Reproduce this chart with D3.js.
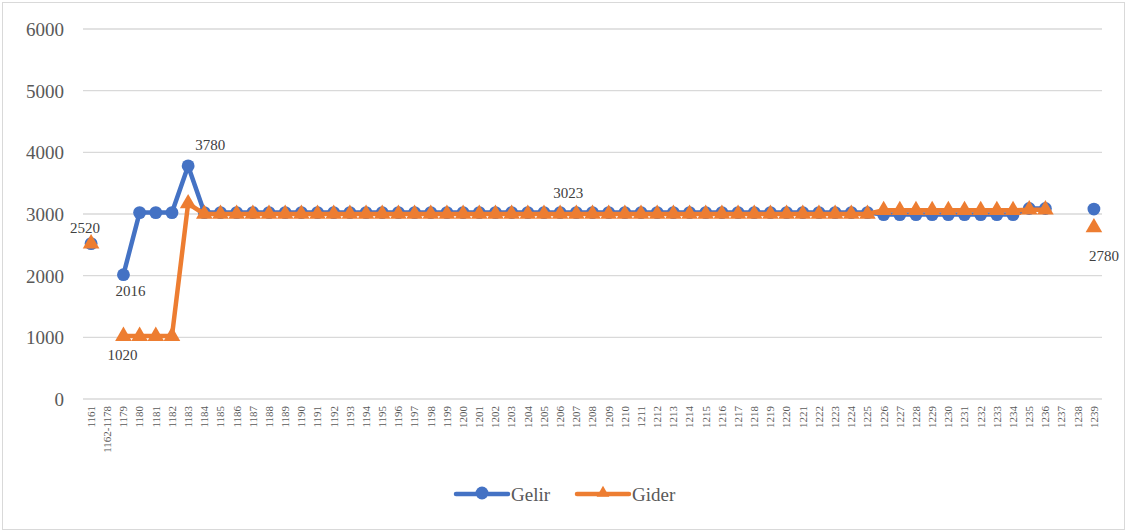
<!DOCTYPE html>
<meta charset="utf-8">
<style>
body { margin: 0; background: #fff; }
svg { display: block; font-family: "Liberation Serif", "Times New Roman", serif; }
.grid line { stroke: #d9d9d9; stroke-width: 1.3px; }
.ylab text { font-family: "Liberation Serif", "Times New Roman", serif; font-size: 19px; fill: #595959; }
.xlab text { font-family: "Liberation Serif", "Times New Roman", serif; font-size: 11px; fill: #595959; }
.dlab { font-size: 15px; fill: #404040; }
.legend text { font-size: 19px; fill: #595959; }
</style>
<body>
<div id="chart"></div>
<script src="https://cdn.jsdelivr.net/npm/d3@7"></script>
<script>
// categories (years)
var years = ["1161", "1162-1178",
  "1179", "1180", "1181", "1182", "1183", "1184", "1185", "1186", "1187", "1188", "1189", "1190",
  "1191", "1192", "1193", "1194", "1195", "1196", "1197", "1198", "1199", "1200",
  "1201", "1202", "1203", "1204", "1205", "1206", "1207", "1208", "1209", "1210",
  "1211", "1212", "1213", "1214", "1215", "1216", "1217", "1218", "1219", "1220",
  "1221", "1222", "1223", "1224", "1225", "1226", "1227", "1228", "1229", "1230",
  "1231", "1232", "1233", "1234", "1235", "1236", "1237", "1238", "1239"];

var gelir = [2520, null,
  2016, 3023, 3023, 3023, 3780, 3023, 3023, 3023, 3023, 3023, 3023, 3023,
  3023, 3023, 3023, 3023, 3023, 3023, 3023, 3023, 3023, 3023,
  3023, 3023, 3023, 3023, 3023, 3023, 3023, 3023, 3023, 3023,
  3023, 3023, 3023, 3023, 3023, 3023, 3023, 3023, 3023, 3023,
  3023, 3023, 3023, 3023, 3023, 2990, 2990, 2990, 2990, 2990,
  2990, 2990, 2990, 2990, 3090, 3090, null, null, 3080];

var gider = [2520, null,
  1020, 1020, 1020, 1020, 3170, 3000, 3000, 3000, 3000, 3000, 3000, 3000,
  3000, 3000, 3000, 3000, 3000, 3000, 3000, 3000, 3000, 3000,
  3000, 3000, 3000, 3000, 3000, 3000, 3000, 3000, 3000, 3000,
  3000, 3000, 3000, 3000, 3000, 3000, 3000, 3000, 3000, 3000,
  3000, 3000, 3000, 3000, 3000, 3060, 3060, 3060, 3060, 3060,
  3060, 3060, 3060, 3060, 3070, 3070, null, null, 2780];

var yTicks = [0, 1000, 2000, 3000, 4000, 5000, 6000];

// data labels: series, year, shown text
var labels = [
  {s: "gelir", year: "1161", text: "2520", dx: -6, dy: -16},
  {s: "gelir", year: "1179", text: "2016", dx: 7, dy: 16},
  {s: "gider", year: "1179", text: "1020", dx: -1, dy: 19},
  {s: "gelir", year: "1183", text: "3780", dx: 22, dy: -21},
  {s: "gelir", year: "1206", text: "3023", dx: 8, dy: -20},
  {s: "gider", year: "1239", text: "2780", dx: 10, dy: 28}
];

var W = 1127, H = 531;
var plot = {left: 83, right: 1102, top: 29, bottom: 399};

var svg = d3.select("#chart").append("svg")
  .attr("width", W).attr("height", H);

svg.append("rect")
  .attr("x", 2.5).attr("y", 2.5).attr("width", W - 5).attr("height", H - 4)
  .attr("fill", "#fff").attr("stroke", "#d9d9d9").attr("stroke-width", 1);

var x = d3.scaleBand().domain(years).range([plot.left, plot.right]);
var y = d3.scaleLinear().domain([0, 6000]).range([plot.bottom, plot.top]);
var cx = function(d) { return x(d) + x.bandwidth() / 2; };

// gridlines
svg.append("g").attr("class", "grid")
  .selectAll("line").data(yTicks).enter().append("line")
  .attr("x1", plot.left).attr("x2", plot.right)
  .attr("y1", function(d) { return y(d); }).attr("y2", function(d) { return y(d); });

// y axis labels
var yAxis = svg.append("g").attr("class", "ylab")
  .attr("transform", "translate(" + (plot.left - 19) + ",0)")
  .call(d3.axisLeft(y).tickValues(yTicks).tickSize(0).tickFormat(d3.format("d")));
yAxis.select(".domain").remove();
yAxis.selectAll("text").attr("dy", "0.35em").attr("x", 0);

// x axis labels (vertical)
var xAxis = svg.append("g").attr("class", "xlab")
  .attr("transform", "translate(0," + plot.bottom + ")")
  .call(d3.axisBottom(x).tickSize(0));
xAxis.select(".domain").remove();
xAxis.selectAll("text")
  .attr("transform", "rotate(-90)")
  .attr("x", -7).attr("y", 0).attr("dy", "0.35em")
  .style("text-anchor", "end");

var series = [
  {key: "gelir", name: "Gelir", values: gelir, color: "#4472C4", marker: "circle"},
  {key: "gider", name: "Gider", values: gider, color: "#ED7D31", marker: "triangle"}
];

var line = d3.line()
  .defined(function(d) { return d.v != null; })
  .x(function(d) { return cx(d.year); })
  .y(function(d) { return y(d.v); });

var circleSym = d3.symbol().type(d3.symbolCircle).size(130);
var triSym = d3.symbol().type(d3.symbolTriangle).size(120);

series.forEach(function(s) {
  var pts = years.map(function(yr, i) { return {year: yr, v: s.values[i]}; });
  var g = svg.append("g");
  g.append("path").datum(pts)
    .attr("fill", "none").attr("stroke", s.color).attr("stroke-width", 4.5)
    .attr("stroke-linejoin", "round")
    .attr("d", line);
  g.selectAll("path.mk").data(pts.filter(function(d) { return d.v != null; }))
    .enter().append("path").attr("class", "mk")
    .attr("transform", function(d) { return "translate(" + cx(d.year) + "," + y(d.v) + ")"; })
    .attr("d", s.marker === "circle" ? circleSym : triSym)
    .attr("fill", s.color);
});

// data labels
svg.selectAll("text.dlab").data(labels).enter().append("text")
  .attr("class", "dlab")
  .attr("text-anchor", "middle")
  .attr("x", function(d) { return cx(d.year) + d.dx; })
  .attr("y", function(d) {
    var vals = d.s === "gelir" ? gelir : gider;
    return y(vals[years.indexOf(d.year)]) + d.dy;
  })
  .attr("dy", "0.35em")
  .text(function(d) { return d.text; });

// legend
var legend = svg.append("g").attr("class", "legend");
var lx = [456, 577];
var legTri = d3.symbol().type(d3.symbolTriangle).size(70);
series.forEach(function(s, i) {
  var gx = lx[i], gy = 494;
  legend.append("line")
    .attr("x1", gx).attr("x2", gx + 52).attr("y1", gy).attr("y2", gy)
    .attr("stroke", s.color).attr("stroke-width", 4.5).attr("stroke-linecap", "round");
  legend.append("path")
    .attr("transform", "translate(" + (gx + 26) + "," + (gy - 1) + ")")
    .attr("d", s.marker === "circle" ? circleSym : legTri)
    .attr("fill", s.color);
  legend.append("text")
    .attr("x", gx + 55).attr("y", gy).attr("dy", "0.35em")
    .text(s.name);
});
</script>
</body>
